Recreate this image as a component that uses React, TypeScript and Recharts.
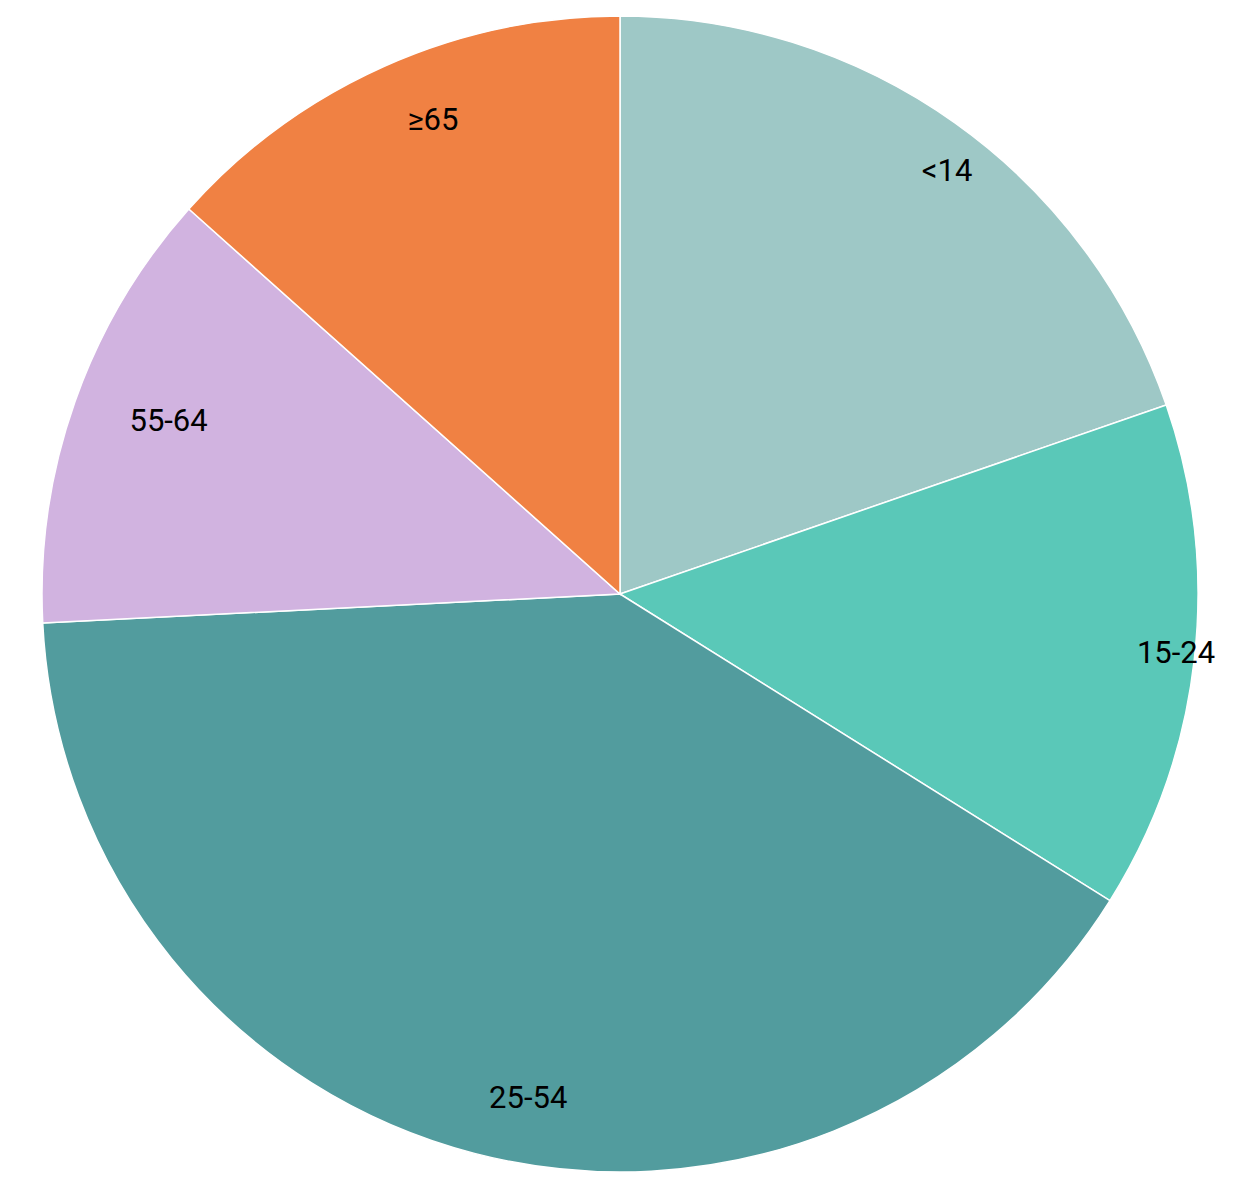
import React from "react";
import { PieChart, Pie, Cell } from "recharts";

const categories = ["<14", "15-24", "25-54", "55-64", "≥65"];
const values = [19.7, 14.2, 40.3, 12.4, 13.4];
const colors = ["#9EC8C6", "#5AC8B8", "#529C9E", "#D1B3E0", "#F08143"];

const data = categories.map((name, i) => ({ name, value: values[i] }));

const RAD = Math.PI / 180;

const renderLabel = (props: any) => {
  const { cx, cy, midAngle, outerRadius, name } = props;
  const r = outerRadius * 0.9;
  const x = cx + r * Math.cos(-midAngle * RAD);
  const y = cy + r * Math.sin(-midAngle * RAD);
  return (
    <text
      x={x}
      y={y}
      fill="#000"
      textAnchor="start"
      dominantBaseline="central"
      fontSize={31}
      fontFamily="Roboto, 'Noto Sans', sans-serif"
    >
      {name}
    </text>
  );
};

export default function App() {
  return (
    <div style={{ width: 1218, height: 1170, background: "#fff" }}>
      <PieChart width={1218} height={1170}>
        <Pie
          data={data}
          dataKey="value"
          nameKey="name"
          cx={607}
          cy={581}
          outerRadius={578}
          startAngle={90}
          endAngle={-270}
          stroke="#fff"
          strokeWidth={1.5}
          label={renderLabel}
          labelLine={false}
          isAnimationActive={false}
        >
          {data.map((d, i) => (
            <Cell key={d.name} fill={colors[i]} />
          ))}
        </Pie>
      </PieChart>
    </div>
  );
}
